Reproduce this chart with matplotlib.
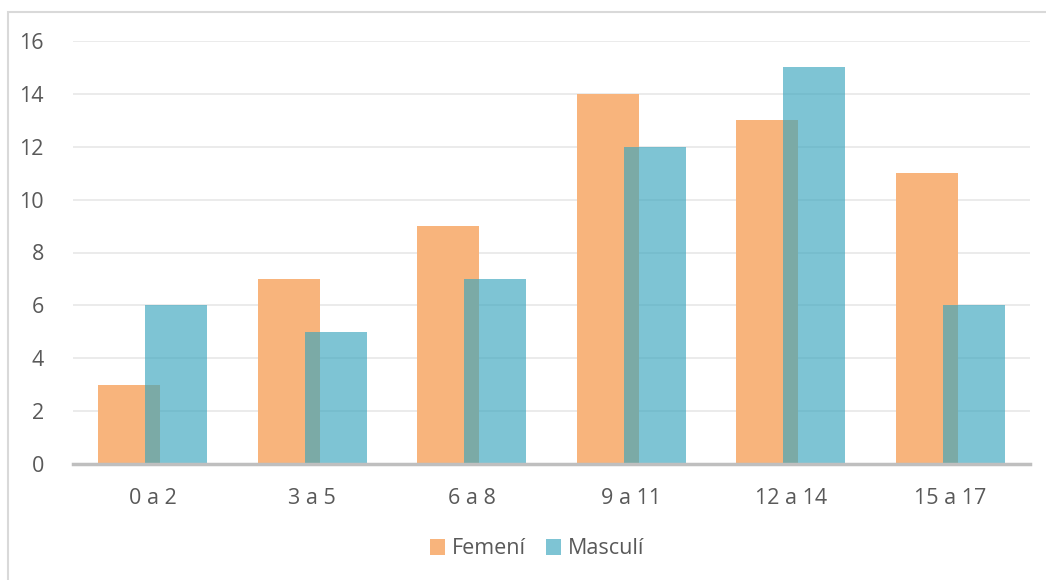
import numpy as np
import matplotlib.pyplot as plt
from matplotlib.patches import Rectangle

categories = ['0 a 2', '3 a 5', '6 a 8', '9 a 11', '12 a 14', '15 a 17']
femeni = [3, 7, 9, 14, 13, 11]
masculi = [6, 5, 7, 12, 15, 6]
yticks = [0, 2, 4, 6, 8, 10, 12, 14, 16]

plt.rcParams['font.family'] = ['Open Sans', 'DejaVu Sans']
text_color = '#595959'

fig = plt.figure(figsize=(10.46, 5.8), dpi=100)
ax = fig.add_axes([73 / 1046, 0.2, 957 / 1046, (464 - 41) / 580])

x = np.arange(len(categories))
w = 0.388
off = 0.147
ax.bar(x - off, femeni, w, color='#F8B47C', label='Femení', zorder=2)
ax.bar(x + off, masculi, w, color=(57 / 255, 165 / 255, 189 / 255), alpha=0.65,
       label='Masculí', zorder=3)

ax.set_xlim(-0.5, len(categories) - 0.5)
ax.set_ylim(0, 16)
ax.set_yticks(yticks)
ax.set_xticks(x)
ax.set_xticklabels(categories)
ax.tick_params(axis='both', length=0, labelsize=15.5, labelcolor=text_color)
ax.tick_params(axis='x', pad=17)
ax.tick_params(axis='y', pad=21)
ax.grid(axis='y', color='#EBEBEB', linewidth=1.4, zorder=0)
ax.set_axisbelow(True)
for s in ['top', 'right', 'left']:
    ax.spines[s].set_visible(False)
ax.spines['bottom'].set_color('#BFBFBF')
ax.spines['bottom'].set_linewidth(2.5)
ax.spines['bottom'].set_zorder(4)

leg = fig.legend(loc='center', bbox_to_anchor=(537 / 1046, 1 - 549 / 580), ncol=2,
                 frameon=False, fontsize=15.5, handlelength=0.7, handleheight=0.7,
                 handletextpad=0.35, columnspacing=0.9)
for t in leg.get_texts():
    t.set_color(text_color)

fig.patches.append(Rectangle((8 / 1046, -0.05), 1.1, 1 - 12 / 580 + 0.05,
                             transform=fig.transFigure, fill=False,
                             edgecolor='#D9D9D9', linewidth=1.5))

fig.savefig('out.png', dpi=100)
